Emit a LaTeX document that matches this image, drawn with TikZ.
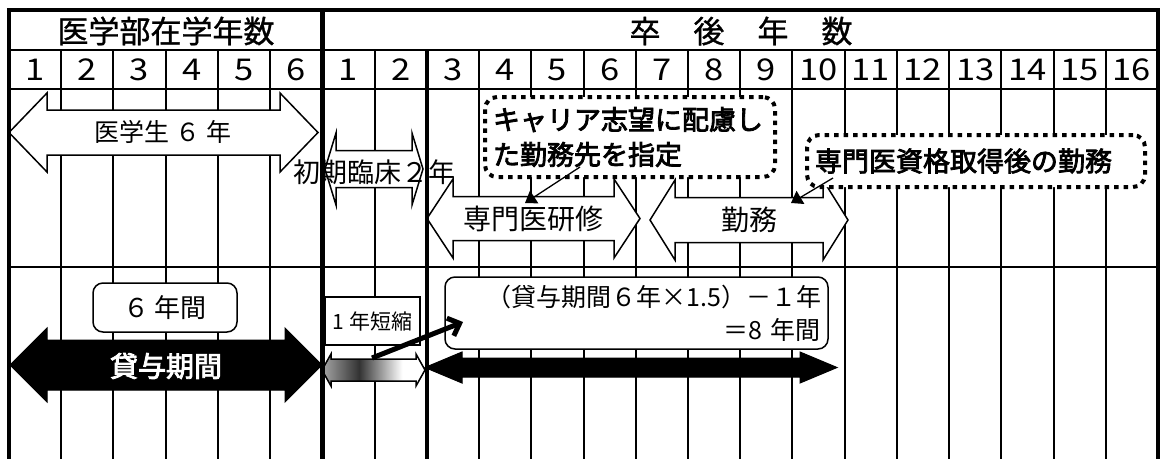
\documentclass[tikz,border=0pt]{standalone}
\usepackage{fontspec}
\setmainfont{Noto Sans CJK JP}
\newfontfamily\jpsemibold[FakeBold=3]{Noto Sans CJK JP}
\newfontfamily\jphdr[FakeBold=1]{Noto Sans CJK JP}
\newfontfamily\jpdigits[FakeStretch=1.15]{Noto Sans CJK JP}
\usetikzlibrary{arrows.meta}
\pgfdeclarehorizontalshading{fadegray}{100bp}{color(0bp)=(black!35); color(25bp)=(black!35); color(29bp)=(black!45); color(43bp)=(black!80); color(64bp)=(white); color(100bp)=(white)}
\newcommand\dblarrowshape[7]{%
  \path[#1] (#2,#4) -- (#2+#5,#4-#7) -- (#2+#5,#4-#6) -- (#3-#5,#4-#6) -- (#3-#5,#4-#7) -- (#3,#4) -- (#3-#5,#4+#7) -- (#3-#5,#4+#6) -- (#2+#5,#4+#6) -- (#2+#5,#4+#7) -- cycle;}
\begin{document}
\begin{tikzpicture}[x=1pt,y=-1pt,
  gridthin/.style={line width=2pt},
  gridthick/.style={line width=4.5pt},
  wharrow/.style={draw=black,fill=white,line width=1.5pt,line join=miter},
  bkarrow/.style={draw=black,fill=black,line width=1pt,line join=miter},
  gradarrow/.style={draw=black,shading=fadegray,line width=1.5pt,line join=miter},
  hdrtxt/.style={font=\fontsize{31}{36}\selectfont\jphdr,inner sep=0pt},
  numtxt/.style={font=\fontsize{30}{32}\selectfont\jpdigits,inner sep=0pt},
  lbl/.style={font=\fontsize{26}{30}\selectfont,inner sep=0pt},
  dotbox/.style={draw=black,fill=white,line width=4pt,dash pattern=on 4.5pt off 5pt,rounded corners=12pt,
    font=\fontsize{27}{35}\selectfont\jpsemibold,inner sep=8pt,align=left},
  roundbox/.style={draw=black,fill=white,line width=1.5pt,rounded corners=10pt,inner sep=0pt},
  sqbox/.style={draw=black,fill=white,line width=1.5pt,inner sep=0pt},
  pointer/.style={line width=1.3pt,-{Triangle[length=11pt,width=15pt]}},
  bigpointer/.style={line width=5pt,-{Straight Barb[length=10pt,width=19pt]}}
]
\useasboundingbox (0,0) rectangle (1162,459);
\fill[white] (0,0) rectangle (1162,459);
\def\cw{52.227}
% grid
\draw[gridthin] (9,50) -- (1158,50);
\draw[gridthin] (9,89) -- (1158,89);
\draw[gridthin] (9,267) -- (1158,267);
\foreach \i in {1,2,3,4,5,7,9,10,...,21} \draw[gridthin] ({9+\i*\cw},50) -- ({9+\i*\cw},459);
% headers
\node[hdrtxt] (hdrmed) at (166,31) {医学部在学年数};
\node[hdrtxt] (hdrpost) at (741,31) {卒\hspace{33pt}後\hspace{33pt}年\hspace{33pt}数};
\foreach \c in {1,...,22}{
  \pgfmathtruncatemacro\lab{\c<=6 ? \c : \c-6}
  \node[numtxt] (n\c) at ({9+(\c-0.5)*\cw},70) {\lab};
}
% upper arrows
\dblarrowshape{wharrow}{9}{318}{132.5}{38}{22.5}{39.5}
\node[lbl,font=\fontsize{25}{30}\selectfont] (med6) at (163,132) {医学生 ６ 年};
\dblarrowshape{wharrow}{325}{423}{169}{11}{18.5}{36}
\dblarrowshape{wharrow}{427}{640}{218.5}{26}{22}{39.5}
\node[lbl,font=\fontsize{28}{30}\selectfont] (senmon) at (533,219) {専門医研修};
\dblarrowshape{wharrow}{650}{848}{220}{25}{22.5}{40}
\node[lbl,font=\fontsize{28}{30}\selectfont] (kinmu) at (749,220) {勤務};
\node[lbl,font=\fontsize{27}{30}\selectfont] (shoki) at (374,172) {初期臨床２年};
% dotted boxes
\node[dotbox,minimum width=290pt,minimum height=80pt,text width=274pt] (career) at (630,137)
  {キャリア志望に配慮し\\た勤務先を指定};
\node[dotbox,minimum width=338pt,minimum height=52pt,text width=322pt] (after) at (976,161)
  {専門医資格取得後の勤務};
\coordinate (p1s) at (580,167);
\coordinate (p1e) at (525,203);
\draw[pointer] (p1s) -- (p1e);
\coordinate (p2s) at (833,178);
\coordinate (p2e) at (791,203);
\draw[pointer] (p2s) -- (p2e);
% lower region
\node[roundbox,minimum width=144pt,minimum height=49pt,font=\fontsize{26}{30}\selectfont] (six) at (165,307.5) {６ 年間};
\dblarrowshape{bkarrow}{10}{322}{365}{37}{25}{37}
\node[lbl,font=\fontsize{28}{30}\selectfont\jpsemibold,text=white] (taiyo) at (166,366) {貸与期間};
\node[sqbox,minimum width=95pt,minimum height=48pt,font=\fontsize{21}{24}\selectfont] (short) at (372.5,321) {1 年短縮};
\dblarrowshape{gradarrow}{322}{425}{370}{9}{11}{16}
\node[roundbox,minimum width=383pt,minimum height=72pt,text width=369pt,align=right,
  font=\fontsize{25}{33}\selectfont] (calc) at (636.5,313)
  {（貸与期間６年×1.5）－１年\\＝8 年間};
\dblarrowshape{bkarrow}{425}{837}{367.5}{37}{9.5}{15.5}
\coordinate (p3s) at (372,358);
\coordinate (p3e) at (463,322);
\draw[bigpointer] (p3s) -- (p3e);
% thick borders
\draw[gridthick] (6.75,10) -- (1160.25,10);
\draw[gridthick] (9,10) -- (9,459);
\draw[gridthick] (322.36,10) -- (322.36,459);
\draw[gridthick] (426.8,50) -- (426.8,459);
\draw[gridthick] (1158,10) -- (1158,459);
\end{tikzpicture}
\end{document}
